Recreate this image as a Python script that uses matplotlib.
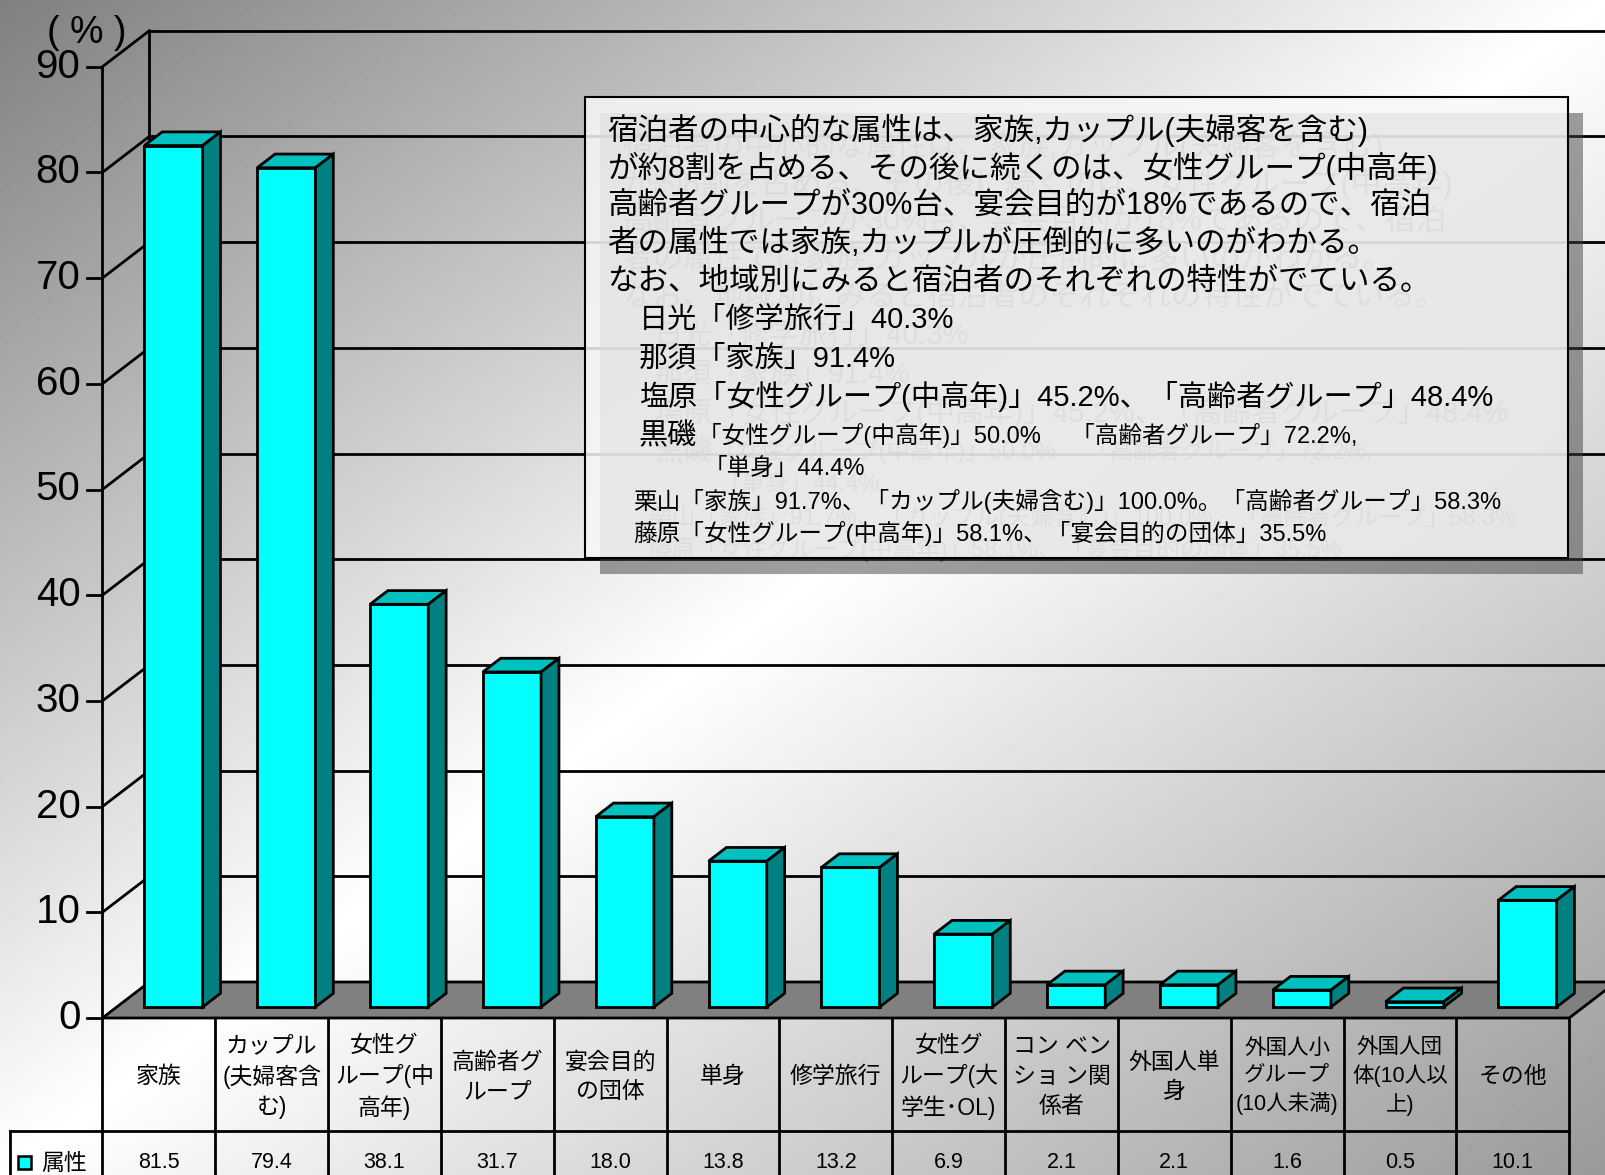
import numpy as np
import matplotlib.pyplot as plt
from matplotlib.patches import Polygon, Rectangle

plt.rcParams['font.family'] = ['Liberation Sans', 'Noto Sans CJK JP']

# data
categories = ['家族', 'カップル\n(夫婦客含\nむ)', '女性グ\nループ(中\n高年)', '高齢者グ\nループ',
              '宴会目的\nの団体', '単身', '修学旅行', '女性グ\nループ(大\n学生･OL)',
              'コン ベン\nショ ン関\n係者', '外国人単\n身', '外国人小\nグループ\n(10人未満)',
              '外国人団\n体(10人以\n上)', 'その他']
values = [81.5, 79.4, 38.1, 31.7, 18.0, 13.8, 13.2, 6.9, 2.1, 2.1, 1.6, 0.5, 10.1]
series_name = '属性'
yticks = list(range(0, 91, 10))
unit_label = '( % )'

note_lines = [
    ('宿泊者の中心的な属性は、家族,カップル(夫婦客を含む)', 607, 130, 22),
    ('が約8割を占める、その後に続くのは、女性グループ(中高年)', 607, 168, 22),
    ('高齢者グループが30%台、宴会目的が18%であるので、宿泊', 607, 206, 22),
    ('者の属性では家族,カップルが圧倒的に多いのがわかる。', 607, 244, 22),
    ('なお、地域別にみると宿泊者のそれぞれの特性がでている。', 607, 282, 22),
    ('日光「修学旅行」40.3%', 639, 320, 21),
    ('那須「家族」91.4%', 639, 358, 21),
    ('塩原「女性グループ(中高年)」45.2%、「高齢者グループ」48.4%', 639, 396, 21),
    ('黒磯', 639, 436, 21),
    ('「女性グループ(中高年)」50.0%　 「高齢者グループ」72.2%,', 698, 436, 17),
    ('「単身」44.4%', 704, 469, 17),
    ('栗山「家族」91.7%、「カップル(夫婦含む)」100.0%。「高齢者グループ」58.3%', 633, 501, 17),
    ('藤原「女性グループ(中高年)」58.1%、「宴会目的の団体」35.5%', 633, 533, 17),
]

# layout (pixels)
W, H = 1605, 1175
X0, CW = 102.4, 112.83      # front value axis, category width
Y0, VU = 1018.0, 10.57      # zero line, pixels per percent
ROW = 113.0                 # table header row height
DX, DY = 47 / CW, 36 / VU   # depth of the 3-D box in data units
F0, BD = 0.305, 0.38        # bar front depth and bar thickness (fractions of depth)
BAR_OFF, BAR_W = 0.245, 0.516
LW = 2.0
FRONT, TOP, SIDE, FLOOR = '#00ffff', '#00c0c0', '#008080', '#808080'

fig = plt.figure(figsize=(W / 100, H / 100), dpi=100)

# diagonal grey-white-grey background
bg = fig.add_axes([0, 0, 1, 1], zorder=0)
yy, xx = np.mgrid[0:H, 0:W]
t = (xx / W + yy / H) / 2
shade = np.interp(t, [0, 0.5, 1], [0.50, 1.0, 0.60])
bg.imshow(shade, cmap='gray', vmin=0, vmax=1, extent=[0, W, H, 0], aspect='auto')
bg.axis('off')

# chart area: x in categories, y in percent
ax = fig.add_axes([0, 0, 1, 1], zorder=1)
ax.set_xlim(-X0 / CW, (W - X0) / CW)
ax.set_ylim(-(H - Y0) / VU, Y0 / VU)
ax.axis('off')
n = len(values)
top = yticks[-1]

# walls and gridlines
line_kw = dict(color='black', lw=LW, solid_capstyle='projecting', zorder=2)
ax.plot([0, 0], [0, top], **line_kw)
ax.plot([DX, DX], [DY, top + DY], **line_kw)
for v in yticks[1:]:
    ax.plot([DX, n + DX + 1], [v + DY, v + DY], **line_kw)
    ax.plot([0, DX], [v, v + DY], **line_kw)
for v in yticks:
    ax.plot([-15 / CW, 0], [v, v], **line_kw)
    ax.text(-22 / CW, v, str(v), ha='right', va='center', fontsize=29,
            family='Liberation Sans')

# floor
ax.add_patch(Polygon([(0, 0), (n, 0), (n + DX, DY), (DX, DY)], closed=True,
                     facecolor=FLOOR, edgecolor='black', lw=LW, joinstyle='miter', zorder=3))


def face(xs, ys, color):
    ax.add_patch(Polygon(np.column_stack([xs, ys]), closed=True, facecolor=color,
                         edgecolor='black', lw=LW, joinstyle='miter', zorder=4))


# 3-D bars
for i, v in enumerate(values):
    x0 = i + BAR_OFF + F0 * DX
    y0 = F0 * DY
    x1, y1 = x0 + BAR_W, y0 + v
    ddx, ddy = BD * DX, BD * DY
    face([x0, x1, x1, x0], [y0, y0, y1, y1], FRONT)
    face([x0, x1, x1 + ddx, x0 + ddx], [y1, y1, y1 + ddy, y1 + ddy], TOP)
    face([x1, x1 + ddx, x1 + ddx, x1], [y0, y0 + ddy, y1 + ddy, y1], SIDE)

# data table under the floor
tb = fig.add_axes([0, 0, 1, (H - Y0) / H], zorder=2)
tb.set_xlim(ax.get_xlim())
tb.set_ylim((H - Y0) / ROW, 0)
tb.axis('off')
bottom = (H - Y0) / ROW + 0.1
leg_left = -(X0 - 10.2) / CW
for k in range(n + 1):
    tb.plot([k, k], [0, bottom], color='black', lw=LW, clip_on=False)
tb.plot([leg_left, n], [1, 1], color='black', lw=LW, solid_capstyle='projecting')
tb.plot([leg_left, leg_left], [1, bottom], color='black', lw=LW)
for i, (c, v) in enumerate(zip(categories, values)):
    fs = 15.5 if '10人' in c else 16.5
    tb.text(i + 0.5, 0.52, c, ha='center', va='center', fontsize=fs, linespacing=1.36)
    tb.text(i + 0.5, 1.283, f'{v:.1f}', ha='center', va='center', fontsize=15.5)

# pixel overlay for labels and the note box
ov = fig.add_axes([0, 0, 1, 1], zorder=3)
ov.set_xlim(0, W)
ov.set_ylim(H, 0)
ov.axis('off')
ov.text(87, 33, unit_label, ha='center', va='center', fontsize=27,
        family='Liberation Sans')
ov.add_patch(Rectangle((18, 1156), 13, 13, facecolor=FRONT, edgecolor='black', lw=1.8))
ov.text(41, 1163, series_name, ha='left', va='center', fontsize=16.5)

bx, by, bw, bh = 585, 97, 983, 461
ov.add_patch(Rectangle((bx + 15, by + 16), bw, bh, facecolor='#404040', alpha=0.5,
                       edgecolor='none', zorder=1))
for s, x, y, fs in note_lines:
    ov.text(x + 15, y + 16, s, ha='left', va='center', fontsize=fs, color='black',
            alpha=0.45, zorder=2)
ov.add_patch(Rectangle((bx, by), bw, bh, facecolor=(0.97, 0.97, 0.97, 0.85),
                       edgecolor='black', lw=1.5, zorder=3))
for s, x, y, fs in note_lines:
    ov.text(x, y, s, ha='left', va='center', fontsize=fs, color='black', zorder=4)

fig.savefig('out.png', dpi=100)
